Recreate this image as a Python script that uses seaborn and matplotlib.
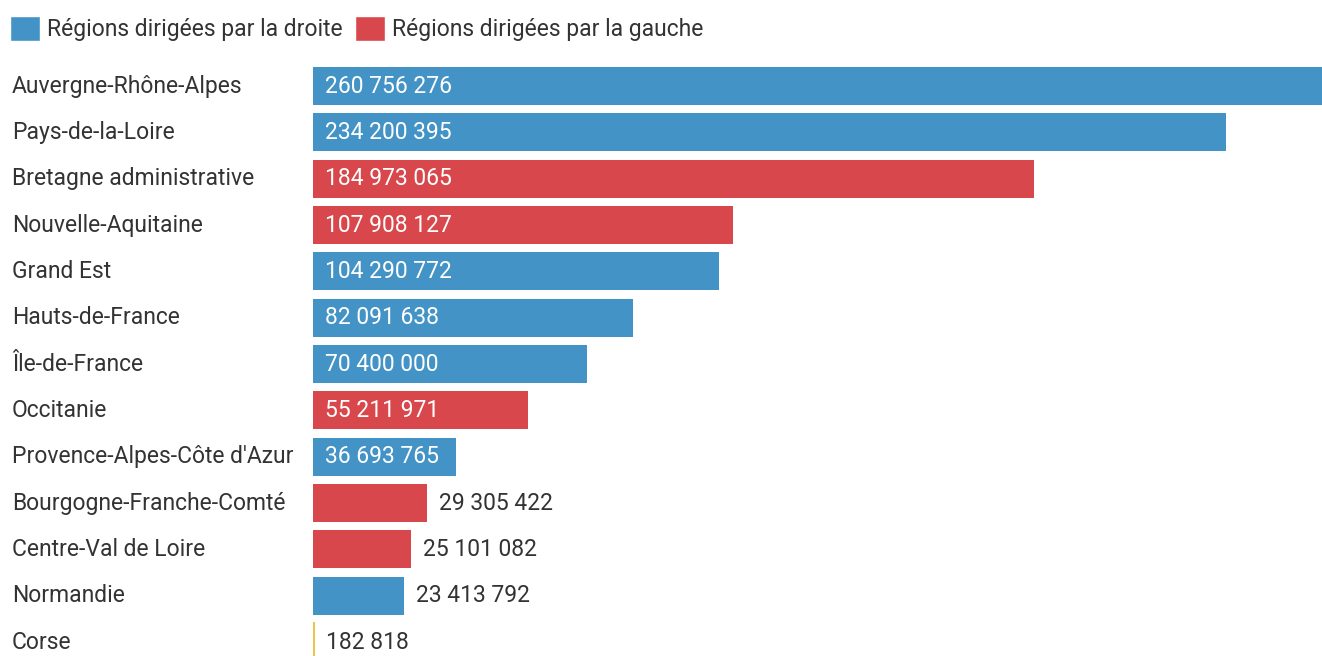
import matplotlib
matplotlib.use('Agg')
import matplotlib.pyplot as plt
import matplotlib.transforms as mtransforms
from matplotlib.patches import Patch
import seaborn as sns
import pandas as pd

regions = ["Auvergne-Rhône-Alpes", "Pays-de-la-Loire", "Bretagne administrative",
           "Nouvelle-Aquitaine", "Grand Est", "Hauts-de-France", "Île-de-France",
           "Occitanie", "Provence-Alpes-Côte d'Azur", "Bourgogne-Franche-Comté",
           "Centre-Val de Loire", "Normandie", "Corse"]
values = [260756276, 234200395, 184973065, 107908127, 104290772, 82091638,
          70400000, 55211971, 36693765, 29305422, 25101082, 23413792, 182818]
camps = ["droite", "droite", "gauche", "gauche", "droite", "droite", "droite",
         "gauche", "droite", "gauche", "gauche", "droite", "autre"]

colors = {"droite": "#4393c6", "gauche": "#d8474b", "autre": "#e8c84a"}
legend_labels = {"droite": "Régions dirigées par la droite",
                 "gauche": "Régions dirigées par la gauche"}

df = pd.DataFrame({"region": regions, "value": values, "camp": camps})

sns.set_style('white')
plt.rcParams['font.family'] = ['Roboto', 'DejaVu Sans']
text_col = "#333333"
fs = 16.5

fig = plt.figure(figsize=(13.22, 6.56), dpi=100)
ax = fig.add_axes([313 / 1322, 0, 1 - 313 / 1322, 1])

sns.barplot(data=df, x="value", y="region", hue="camp", palette=colors,
            dodge=False, orient="h", width=0.82, linewidth=0, saturation=1,
            legend=False, ax=ax)

# tiny bar (Corse) gets a visible edge
for p in ax.patches:
    if 0 < p.get_width() < 1e6:
        p.set_edgecolor(colors["autre"])
        p.set_linewidth(1.5)

# the longest bar runs a little past the right edge
ax.set_xlim(0, max(values) * 1009 / 1016)
ax.set_ylim(12.30, -1.856)
ax.axis('off')

# region labels on the left
lab_tr = mtransforms.blended_transform_factory(fig.transFigure, ax.transData)
for i, r in enumerate(regions):
    ax.text(12 / 1322, i, r, transform=lab_tr, ha='left', va='center',
            fontsize=fs, color=text_col)

# value labels
off = mtransforms.offset_copy(ax.transData, fig=fig, x=12, y=0, units='dots')
for i, v in enumerate(values):
    s = f"{v:,}".replace(",", " ")
    if v > 33e6:
        ax.text(0, i, s, transform=off, ha='left', va='center',
                fontsize=fs, color='white')
    else:
        ax.text(v, i, s, transform=off, ha='left', va='center',
                fontsize=fs, color=text_col)

handles = [Patch(facecolor=colors[k], label=legend_labels[k]) for k in ["droite", "gauche"]]
fig.legend(handles=handles, loc='upper left', bbox_to_anchor=(0.0, 0.992),
           ncol=2, frameon=False, fontsize=fs, handlelength=1.3, handleheight=1.3,
           handletextpad=0.3, columnspacing=0.55, borderaxespad=0.0,
           borderpad=0.45, labelcolor=text_col)

fig.savefig("out.png", dpi=100)
